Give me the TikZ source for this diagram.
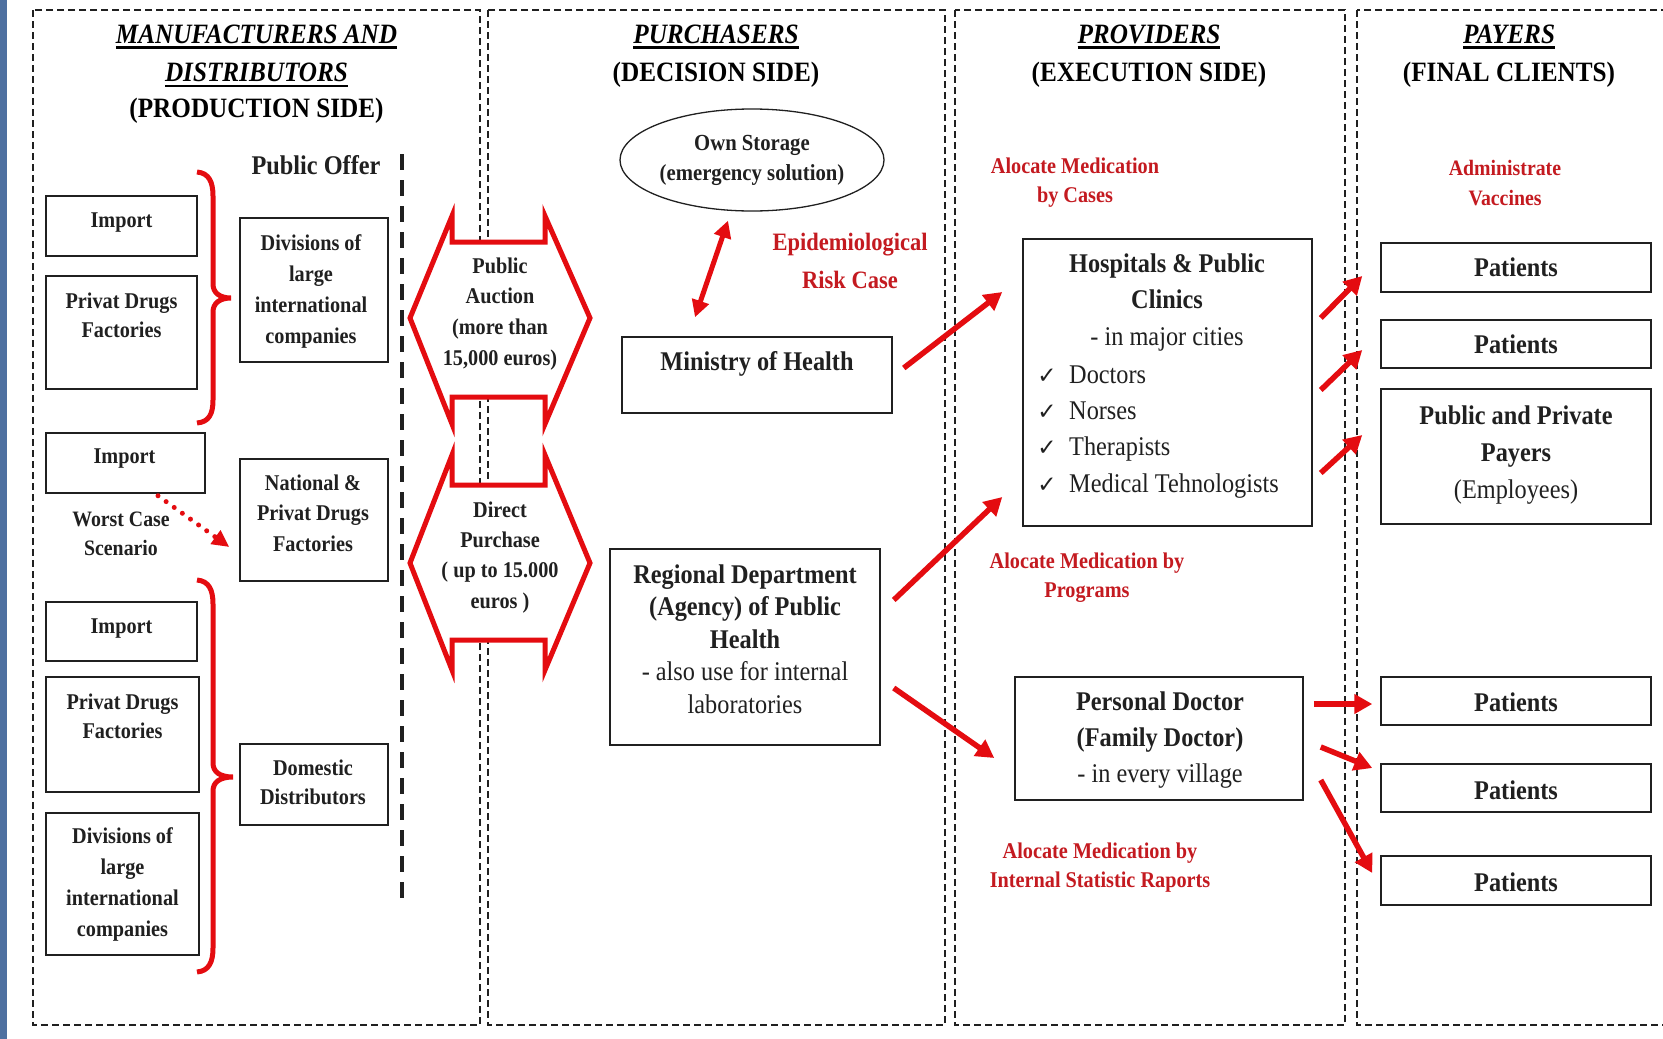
\documentclass[tikz,border=0pt]{standalone}
\usepackage{fontspec}
\setmainfont{Liberation Serif}[FakeStretch=0.9]
\newfontfamily\chkfont{DejaVu Sans}
\usetikzlibrary{arrows.meta,shapes.geometric}

\definecolor{arrred}{RGB}{228,12,16}
\definecolor{lblred}{RGB}{196,26,32}
\definecolor{ink}{RGB}{32,32,32}
\definecolor{edgeblue}{RGB}{78,112,160}

% thick underline for the column headings
\newcommand\tul[1]{\vtop{\hbox{#1}\kern3pt\hrule height 2.5pt}}
% centred multi-line text whose baseline is the first line
\newcommand\ml[1]{\begin{tabular}[t]{@{}c@{}}#1\end{tabular}}
\newcommand\fs[2]{\fontsize{#1}{#2}\selectfont}

\tikzset{
  panel/.style={draw=ink, line width=1.3pt, dash pattern=on 7pt off 4pt},
  offerline/.style={draw=ink, line width=3.5pt, dash pattern=on 16pt off 10pt},
  box/.style={draw=ink, line width=1.5pt, fill=white, inner sep=0pt},
  txt/.style={inner sep=0pt, anchor=base, text=ink, font=\bfseries\fs{22.5}{30.5}},
  bigtxt/.style={inner sep=0pt, anchor=base, text=ink, font=\fs{27}{36}},
  redlbl/.style={inner sep=0pt, anchor=base, text=lblred, font=\bfseries\fs{22.5}{29}},
  title/.style={inner sep=0pt, anchor=base, text=black, font=\bfseries\fs{28}{38}},
  flow/.style={draw=arrred, line width=5.5pt, -{Triangle[length=18pt,width=19pt]}},
  twoway/.style={draw=arrred, line width=5pt, {Triangle[length=17pt,width=17pt]}-{Triangle[length=17pt,width=17pt]}},
  brace/.style={draw=arrred, line width=5pt},
  hexa/.style={draw=arrred, line width=5pt, fill=white, line join=miter},
  chk/.style={inner sep=0pt, anchor=base, text=ink, font=\chkfont\fontsize{23}{26}\selectfont}
}

\begin{document}
\begin{tikzpicture}[x=1pt,y=-1pt]
\useasboundingbox (0,0) rectangle (1663,1039);
\clip (0,0) rectangle (1663,1039);
\fill[white] (0,0) rectangle (1663,1039);
\fill[edgeblue] (0,0) rectangle (7,1039);

% column frames
\draw[panel] (33,10) rectangle (480,1025);
\draw[panel] (488,10) rectangle (945,1025);
\draw[panel] (955,10) rectangle (1345,1025);
\draw[panel] (1357,10) rectangle (1680,1025);

% column headings
\node[title] (t1a) at (256.5,43) {\itshape\tul{MANUFACTURERS AND}};
\node[title] (t1b) at (256.5,81.5) {\itshape\tul{DISTRIBUTORS}};
\node[title] (t1c) at (256.5,117) {(PRODUCTION SIDE)};
\node[title] (t2a) at (716,43) {\itshape\tul{PURCHASERS}};
\node[title] (t2b) at (716,81.5) {(DECISION SIDE)};
\node[title] (t3a) at (1149,43) {\itshape\tul{PROVIDERS}};
\node[title] (t3b) at (1149,81.5) {(EXECUTION SIDE)};
\node[title] (t4a) at (1509,43) {\itshape\tul{PAYERS}};
\node[title] (t4b) at (1509,81.5) {(FINAL CLIENTS)};

% ---------- manufacturers and distributors ----------
\node[txt, font=\bfseries\fs{27}{35}] (offer) at (316,174) {Public Offer};
\draw[offerline] (402,154) -- (402,898);

\node[box, minimum width=151pt, minimum height=60pt] (imp1) at (121.5,226) {};
\node[txt] (imp1t) at (121.5,227) {Import};
\node[box, minimum width=151pt, minimum height=113pt] (pdf1) at (121.5,332.5) {};
\node[txt, font=\bfseries\fs{22.5}{29}] (pdf1t) at (121.5,308) {\ml{Privat Drugs\\Factories}};
\node[box, minimum width=148pt, minimum height=144pt] (div1) at (314,290) {};
\node[txt, font=\bfseries\fs{22.5}{31}] (div1t) at (311,250) {\ml{Divisions of\\large\\international\\companies}};

\node[box, minimum width=159pt, minimum height=60pt] (imp2) at (125.5,463) {};
\node[txt] (imp2t) at (124.5,463) {Import};
\node[txt, font=\bfseries\fs{22}{29}] (worst) at (121,526) {\ml{Worst Case\\Scenario}};
\node[box, minimum width=148pt, minimum height=122pt] (nat) at (314,520) {};
\node[txt] (natt) at (313,490) {\ml{National \&\\Privat Drugs\\Factories}};

\node[box, minimum width=151pt, minimum height=59pt] (imp3) at (121.5,631.5) {};
\node[txt] (imp3t) at (121.5,633) {Import};
\node[box, minimum width=153pt, minimum height=115pt] (pdf2) at (122.5,734.5) {};
\node[txt, font=\bfseries\fs{22.5}{29}] (pdf2t) at (122.5,709) {\ml{Privat Drugs\\Factories}};
\node[box, minimum width=153pt, minimum height=142pt] (div2) at (122.5,884) {};
\node[txt, font=\bfseries\fs{22.5}{31}] (div2t) at (122.5,843) {\ml{Divisions of\\large\\international\\companies}};
\node[box, minimum width=148pt, minimum height=81pt] (dom) at (314,784.5) {};
\node[txt, font=\bfseries\fs{22.5}{29}] (domt) at (313,775) {\ml{Domestic\\Distributors}};

% curly braces
\draw[brace] (197,172) .. controls (209,173) and (213,182) .. (213,196) -- (213,284)
  .. controls (213,293) and (220,298) .. (231,298)
  .. controls (220,298) and (213,303) .. (213,312) -- (213,400)
  .. controls (213,414) and (209,422) .. (197,423);
\draw[brace] (197,580) .. controls (209,581) and (213,590) .. (213,604) -- (213,763)
  .. controls (213,772) and (220,777) .. (233,777)
  .. controls (220,777) and (213,782) .. (213,791) -- (213,948)
  .. controls (213,962) and (209,971) .. (197,972);

% worst case route
\draw[draw=arrred, line width=5pt, line cap=round, dash pattern=on 0pt off 10pt,
  -{Triangle[length=17pt,width=16pt]}] ([shift={(32.5,2)}]imp2.south) -- ([shift={(-10,27)}]nat.west);

% ---------- purchasers ----------
\draw[hexa] (452,216) -- (452,242) -- (545,242) -- (545,216) -- (590,318) -- (545,424)
  -- (545,397) -- (452,397) -- (452,424) -- (410,318) -- cycle;
\draw[hexa] (452,455) -- (452,485) -- (545,485) -- (545,455) -- (590,563) -- (545,670)
  -- (545,640) -- (452,640) -- (452,670) -- (410,563) -- cycle;
\node[txt, font=\bfseries\fs{22.5}{30.7}] (auction) at (500,273) {\ml{Public\\Auction\\(more than\\15,000 euros)}};
\node[txt, font=\bfseries\fs{22.5}{30.4}] (direct) at (500,517) {\ml{Direct\\Purchase\\( up to 15.000\\euros )}};

\node[draw=ink, line width=1.3pt, ellipse, fill=white, minimum width=264pt, minimum height=102pt, inner sep=0pt] (own) at (752,160) {};
\node[txt, font=\bfseries\fs{23}{30}] (ownt) at (752,150) {\ml{Own Storage\\(emergency solution)}};
\node[redlbl, font=\bfseries\fs{25}{38}] (epi) at (850,250) {\ml{Epidemiological\\Risk Case}};

\node[box, minimum width=270pt, minimum height=76pt] (min) at (757,375) {};
\node[bigtxt, font=\bfseries\fs{27}{36}] (mint) at (757,370) {Ministry of Health};
\node[box, minimum width=270pt, minimum height=196pt] (reg) at (745,647) {};
\node[bigtxt, font=\fs{27}{32.5}] (regt) at (745,583) {\ml{\bfseries Regional Department\\\bfseries (Agency) of Public\\\bfseries Health\\- also use for internal\\laboratories}};

\draw[twoway] ([shift={(-62,-19)}]min.north) -- ([shift={(-24,9)}]own.south);

% ---------- providers ----------
\node[redlbl] (cases) at (1075,173) {\ml{Alocate Medication\\by Cases}};
\node[box, minimum width=289pt, minimum height=287pt] (hosp) at (1167.5,382.5) {};
\node[bigtxt, font=\fs{27}{36.5}] (hospt) at (1167,272) {\ml{\bfseries Hospitals \& Public\\\bfseries Clinics\\- in major cities}};
\node[chk] (c1) at (1047,383) {✓};
\node[chk] (c2) at (1047,419) {✓};
\node[chk] (c3) at (1047,455) {✓};
\node[chk] (c4) at (1047,492) {✓};
\node[bigtxt, anchor=base west] (l1) at (1069,383) {Doctors};
\node[bigtxt, anchor=base west] (l2) at (1069,419) {Norses};
\node[bigtxt, anchor=base west] (l3) at (1069,455) {Therapists};
\node[bigtxt, anchor=base west] (l4) at (1069,492) {Medical Tehnologists};

\node[redlbl] (progs) at (1087,568) {\ml{Alocate Medication by\\Programs}};
\node[box, minimum width=288pt, minimum height=123pt] (pd) at (1159,738.5) {};
\node[bigtxt, font=\fs{27}{36}] (pdt) at (1160,710) {\ml{\bfseries Personal Doctor\\\bfseries (Family Doctor)\\- in every village}};
\node[redlbl] (stats) at (1100,858) {\ml{Alocate Medication by\\Internal Statistic Raports}};

\draw[flow] ([shift={(11,-7)}]min.east) -- ([shift={(-20,-90.5)}]hosp.west);
\draw[flow] ([shift={(13,-47)}]reg.east) -- ([shift={(-20,114.5)}]hosp.west);
\draw[flow] ([shift={(13,41)}]reg.east) -- ([shift={(-20,19.5)}]pd.west);

% ---------- payers ----------
\node[redlbl, font=\bfseries\fs{22}{30}] (vacc) at (1505,175) {\ml{Administrate\\Vaccines}};
\node[box, minimum width=270pt, minimum height=49pt] (pat1) at (1516,267.5) {};
\node[bigtxt, font=\bfseries\fs{27}{36}] (pat1t) at (1516,276) {Patients};
\node[box, minimum width=270pt, minimum height=48pt] (pat2) at (1516,344) {};
\node[bigtxt, font=\bfseries\fs{27}{36}] (pat2t) at (1516,353) {Patients};
\node[box, minimum width=270pt, minimum height=135pt] (payers) at (1516,456.5) {};
\node[bigtxt, font=\fs{27}{37}] (payerst) at (1516,424) {\ml{\bfseries Public and Private\\\bfseries Payers\\(Employees)}};
\node[box, minimum width=270pt, minimum height=48pt] (pat3) at (1516,701) {};
\node[bigtxt, font=\bfseries\fs{27}{36}] (pat3t) at (1516,711) {Patients};
\node[box, minimum width=270pt, minimum height=48pt] (pat4) at (1516,788) {};
\node[bigtxt, font=\bfseries\fs{27}{36}] (pat4t) at (1516,799) {Patients};
\node[box, minimum width=270pt, minimum height=49pt] (pat5) at (1516,880.5) {};
\node[bigtxt, font=\bfseries\fs{27}{36}] (pat5t) at (1516,891) {Patients};

\draw[flow] ([shift={(8,-64.5)}]hosp.east) -- ([shift={(-18,8.5)}]pat1.west);
\draw[flow] ([shift={(8,7.5)}]hosp.east) -- ([shift={(-18,6)}]pat2.west);
\draw[flow] ([shift={(8,90.5)}]hosp.east) -- ([shift={(-18,-21.5)}]payers.west);
\draw[flow] ([shift={(10,-34.5)}]pd.east) -- ([shift={(-8,3)}]pat3.west);
\draw[flow] ([shift={(17,8.5)}]pd.east) -- ([shift={(-8,-20)}]pat4.west);
\draw[flow] ([shift={(17,41.5)}]pd.east) -- ([shift={(-8,-7.5)}]pat5.west);
\end{tikzpicture}
\end{document}
